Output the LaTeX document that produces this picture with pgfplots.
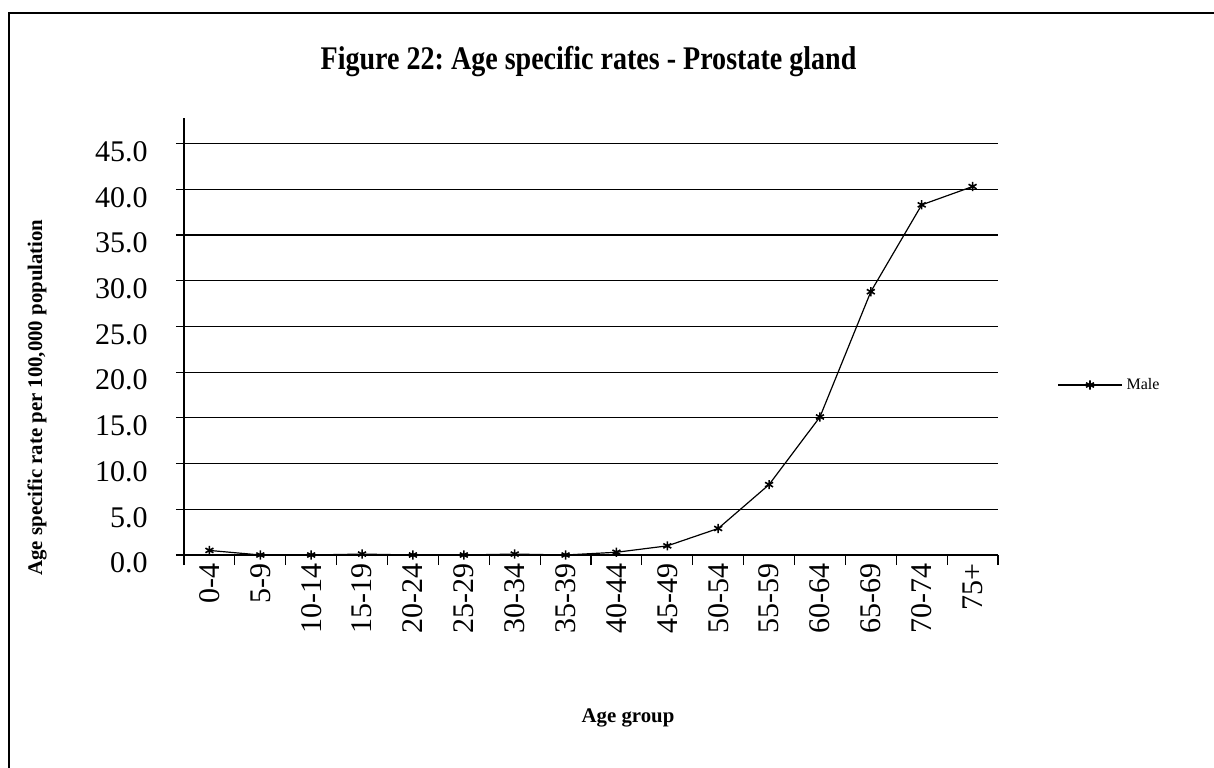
\documentclass[border=0pt]{standalone}
\usepackage{fontspec}
\setmainfont{Liberation Serif}
\usepackage{pgfplots}
\pgfplotsset{compat=1.18}
\usepackage{graphicx}
\frenchspacing

% Age specific rates, males
\pgfplotstableread{
idx rate
0  0.5
1  0.0
2  0.0
3  0.1
4  0.0
5  0.0
6  0.1
7  0.0
8  0.3
9  1.0
10 2.9
11 7.7
12 15.1
13 28.8
14 38.3
15 40.3
}\prostate

\newcommand{\tf}{\fontsize{15bp}{18bp}\selectfont\rmfamily}
\newcommand{\agelabel}[1]{\ifcase#1 0-4\or 5-9\or 10-14\or 15-19\or 20-24\or 25-29\or 30-34\or 35-39\or
  40-44\or 45-49\or 50-54\or 55-59\or 60-64\or 65-69\or 70-74\or 75+\fi}

\begin{document}
\begin{tikzpicture}
\path[use as bounding box] (0,0) rectangle (607bp,384bp);
\draw[line width=0.7bp] (4.5bp,0) -- (4.5bp,377.5bp) -- (607bp,377.5bp);
\node[anchor=base] at (294.25bp,349bp)
  {\scalebox{0.85}[1]{\fontsize{16.5bp}{19bp}\selectfont\bfseries Figure 22: Age specific rates - Prostate gland}};
\begin{axis}[
    at={(92bp,106.5bp)}, anchor=south west,
    width=407bp, height=218.5bp, scale only axis,
    xmin=-0.5, xmax=15.5,
    ymin=0, ymax=47.8,
    axis x line*=bottom, axis y line*=left,
    axis line style={-, line width=0.6bp, black},
    xtick={0,...,15},
    xticklabel={\agelabel{\ticknum}},
    major x tick style={draw=none},
    minor xtick={-0.5,0.5,...,15.5},
    minor x tick style={line width=0.6bp, black},
    minor tick length=5bp,
    ytick={0,5,...,45},
    major tick length=4bp,
    tick align=outside,
    ymajorgrids,
    grid style={line width=0.6bp, black},
    y tick style={line width=0.6bp, black},
    /pgf/number format/assume math mode=true,
    yticklabel={\pgfmathprintnumber[fixed, fixed zerofill, precision=1]{\tick}},
    yticklabel style={font=\tf, anchor=east, inner sep=0pt, xshift=-14bp, yshift=-4bp},
    xticklabel style={font=\tf, rotate=90, anchor=east, inner sep=0pt},
    xlabel={Age group},
    xlabel style={font=\fontsize{10.4bp}{12bp}\selectfont\bfseries, at={(rel axis cs:0.5455,-0.3719)}, anchor=center},
    ylabel={Age specific rate per 100,000 population},
    ylabel style={font=\fontsize{10.4bp}{12bp}\selectfont\bfseries, at={(rel axis cs:-0.1806,0.3604)}, anchor=center, rotate=0},
    legend style={at={(rel axis cs:1.0725,0.389)}, anchor=west, draw=none, fill=none, inner sep=0pt,
        font=\fontsize{8bp}{10bp}\selectfont, legend cell align=left},
    legend image code/.code={\draw[mark repeat=2, mark phase=2, #1] plot coordinates {(0bp,0bp) (16bp,0bp) (32bp,0bp)};},
    clip=false,
]
\addplot[black, line width=0.6bp, mark=asterisk, mark size=2.3bp, mark options={line width=0.8bp}]
    table[x=idx, y=rate] {\prostate};
\addlegendentry{Male}
\end{axis}
\end{tikzpicture}
\end{document}
